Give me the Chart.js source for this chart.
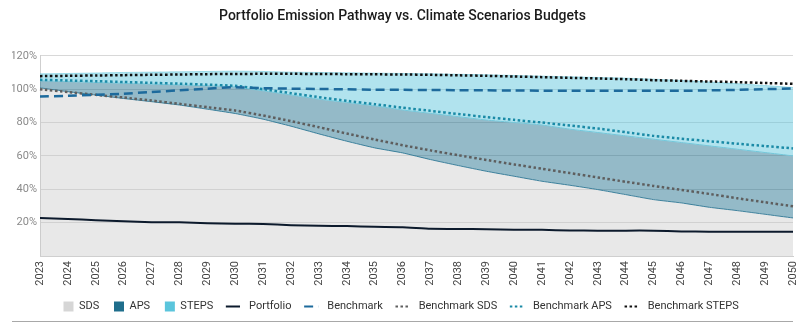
<!DOCTYPE html>
<html>
<head>
<meta charset="utf-8">
<title>Portfolio Emission Pathway</title>
<script src="https://cdn.jsdelivr.net/npm/chart.js@4.4.1/dist/chart.umd.min.js"></script>
<style>
    html, body { margin: 0; padding: 0; background: #fff; }
    #wrap { position: relative; width: 797px; height: 322px; }
    #emissionChart { position: absolute; left: 12px; top: 0; }
    #rule { position: absolute; left: 12px; right: 4px; bottom: 0; height: 1px; background: #a8a8a8; }
</style>
</head>
<body>
<div id="wrap">
    <canvas id="emissionChart" width="785" height="322"></canvas>
    <div id="rule"></div>
</div>
<script>
// Anos
const years = ['2023', '2024', '2025', '2026', '2027', '2028', '2029', '2030', '2031', '2032',
    '2033', '2034', '2035', '2036', '2037', '2038', '2039', '2040', '2041', '2042',
    '2043', '2044', '2045', '2046', '2047', '2048', '2049', '2050'];

// Cenários (% do ano base)
const sds = [100.8, 98.5, 96.5, 94.4, 92.5, 90.5, 88.0, 85.4, 82.0, 77.8, 73.2, 68.8, 64.8, 61.8,
    57.8, 54.2, 50.8, 47.8, 44.8, 42.4, 39.8, 36.8, 33.8, 31.8, 29.2, 27.2, 25.0, 22.8];
const aps = [105.0, 104.5, 104.0, 103.5, 103.0, 102.5, 102.0, 101.3, 99.0, 96.5, 94.0, 92.0, 90.0, 87.5,
    85.5, 83.5, 81.5, 80.0, 78.5, 76.0, 74.0, 72.0, 70.0, 68.0, 66.0, 64.0, 62.0, 60.0];
const steps = [109.2, 109.4, 109.7, 110.0, 110.2, 110.4, 110.6, 110.8, 110.6, 110.2, 110.0, 109.8, 109.6, 109.4,
    109.2, 108.9, 108.6, 108.2, 107.8, 107.4, 107.0, 106.6, 106.0, 105.2, 104.3, 103.3, 102.2, 101.0];

// Carteira e benchmarks
const portfolio = [22.8, 22.2, 21.5, 20.9, 20.3, 20.2, 19.7, 19.3, 19.2, 18.5, 18.1, 18.0, 17.5, 17.3,
    16.3, 16.2, 16.1, 15.8, 15.7, 15.3, 15.2, 15.2, 15.2, 14.7, 14.6, 14.6, 14.6, 14.6];
const benchmark = [95.6, 96.0, 96.6, 97.3, 98.3, 99.3, 100.3, 101.2, 100.6, 100.3, 100.1, 99.9, 99.7, 99.6,
    99.5, 99.4, 99.3, 99.2, 99.1, 99.0, 99.0, 99.0, 99.0, 99.0, 99.3, 99.6, 100.0, 100.4];
const benchmarkSds = [100.0, 98.3, 96.6, 95.0, 93.2, 91.2, 89.2, 87.2, 84.2, 80.8, 77.2, 73.4, 69.8, 66.4,
    63.3, 60.4, 57.6, 54.9, 52.3, 49.7, 47.1, 44.5, 42.0, 39.6, 37.2, 34.6, 32.2, 29.8];
const benchmarkAps = [105.6, 105.2, 104.8, 104.3, 103.8, 103.3, 102.7, 102.0, 100.0, 97.6, 95.2, 93.0, 91.0, 88.9,
    87.0, 85.1, 83.3, 81.6, 80.0, 78.2, 76.4, 74.2, 72.0, 70.3, 68.8, 67.3, 65.9, 64.5];
const benchmarkSteps = [107.8, 108.0, 108.2, 108.4, 108.6, 108.8, 109.0, 109.1, 109.2, 109.2, 109.1, 109.0, 108.9, 108.8,
    108.6, 108.3, 108.0, 107.6, 107.2, 106.8, 106.4, 106.0, 105.4, 105.0, 104.6, 104.2, 103.7, 103.2];

const yTicks = [0, 20, 40, 60, 80, 100, 120];

const FONT = 'Roboto, "Noto Sans", Arial, sans-serif';

function area(label, data, fill, bg, border, swatch, order) {
    return {
        label: label, data: data, fill: fill, order: order,
        backgroundColor: bg, borderColor: border, borderWidth: 1,
        pointRadius: 0, tension: 0.15,
        pointStyle: 'rect', legendColor: swatch
    };
}

function line(label, data, color, width, dash) {
    return {
        label: label, data: data, fill: false, order: 0,
        borderColor: color, backgroundColor: color, borderWidth: width,
        borderDash: dash, pointRadius: 0, tension: 0.15,
        pointStyle: 'line', legendColor: color
    };
}

new Chart(document.getElementById('emissionChart'), {
    type: 'line',
    data: {
        labels: years,
        datasets: [
            area('SDS', sds, 'origin', 'rgba(200, 200, 200, 0.42)', '#4a88a2', '#d6d6d6', 3),
            area('APS', aps, '-1', 'rgba(31, 110, 140, 0.48)', '#7cc8da', '#1f6e8c', 2),
            area('STEPS', steps, '-1', 'rgba(91, 197, 220, 0.48)', 'rgba(91, 197, 220, 0.5)', '#5bc5dc', 1),
            line('Portfolio', portfolio, '#0c1a2c', 2, []),
            line('Benchmark', benchmark, '#1d6a9c', 2.5, [9, 5]),
            line('Benchmark SDS', benchmarkSds, '#5e5e5e', 2.5, [2.5, 2.5]),
            line('Benchmark APS', benchmarkAps, '#1a8aa6', 2.5, [2.5, 2.5]),
            line('Benchmark STEPS', benchmarkSteps, '#111111', 2.5, [2.5, 2.5])
        ]
    },
    options: {
        responsive: false,
        animation: false,
        devicePixelRatio: 1,
        layout: { padding: { left: 0, right: 4, top: 0, bottom: 0 } },
        plugins: {
            title: {
                display: true,
                text: 'Portfolio Emission Pathway vs. Climate Scenarios Budgets',
                color: '#1a1a1a',
                font: { family: FONT, size: 14, weight: '500' },
                padding: { top: 8, bottom: 31 }
            },
            legend: {
                position: 'bottom',
                labels: {
                    usePointStyle: true,
                    boxWidth: 10,
                    boxHeight: 10,
                    padding: 12,
                    color: '#333',
                    font: { family: FONT, size: 11 },
                    sort: (a, b) => a.datasetIndex - b.datasetIndex,
                    generateLabels: function(chart) {
                        const items = Chart.defaults.plugins.legend.labels.generateLabels(chart);
                        items.forEach(item => {
                            const ds = chart.data.datasets[item.datasetIndex];
                            const isArea = ds.pointStyle === 'rect';
                            // linhas precisam de um pouco mais de espaço antes do texto
                            item.text = (isArea ? '' : '\u2002') + ds.label + ' ';
                            item.fillStyle = ds.legendColor;
                            item.strokeStyle = ds.legendColor;
                            item.lineWidth = isArea ? 0 : 2;
                            item.lineDash = ds.borderDash || [];
                        });
                        return items;
                    }
                }
            },
            tooltip: { enabled: false }
        },
        scales: {
            x: {
                offset: false,
                grid: { display: false, drawTicks: false },
                border: { display: true, color: '#cfcfcf' },
                ticks: {
                    autoSkip: false,
                    minRotation: 90,
                    maxRotation: 90,
                    padding: 5,
                    color: '#444',
                    font: { family: FONT, size: 11 }
                },
                afterFit: function(scale) {
                    scale.height = 33;
                    scale.paddingRight = 0;
                    scale.paddingLeft = 0;
                }
            },
            y: {
                min: 0,
                max: 120,
                afterBuildTicks: function(scale) {
                    scale.ticks = yTicks.map(v => ({ value: v }));
                },
                grid: { color: '#d8d8d8', drawTicks: false },
                border: { display: true, color: '#cfcfcf' },
                ticks: {
                    padding: 3,
                    color: '#8a8a8a',
                    font: { family: FONT, size: 11 },
                    callback: function(value) {
                        return value === 0 ? '' : value + '%';
                    }
                },
                afterFit: function(scale) {
                    scale.width = 28;
                }
            }
        }
    }
});
</script>
</body>
</html>
